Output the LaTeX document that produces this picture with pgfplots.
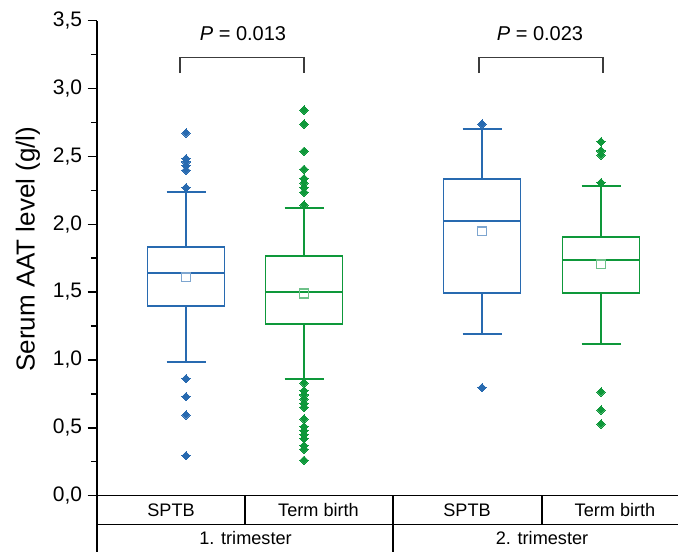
\documentclass[border=0pt]{standalone}
\usepackage{pgfplots}
\pgfplotsset{compat=1.18}
\usepgfplotslibrary{statistics}
\usepackage{fontspec}
\setmainfont{Liberation Sans}

\definecolor{sptb}{RGB}{40,106,176}
\definecolor{term}{RGB}{14,152,58}
\definecolor{brk}{RGB}{60,60,60}

% x axis in hundreds of pixels (1px = 0.75pt), 0..5.81
\begin{document}
\begin{tikzpicture}
\begin{axis}[
    at={(0,0)}, anchor=south west,
    scale only axis,
    width=435.75pt, height=356.4pt,
    xmin=0, xmax=5.81,
    ymin=0, ymax=3.5,
    axis x line*=bottom,
    axis y line*=left,
    axis line style={line width=1pt, black},
    xtick=\empty,
    ytick={0,0.5,...,3.5},
    minor y tick num=1,
    tick align=outside,
    major tick length=7pt,
    minor tick length=4.5pt,
    every tick/.style={black, line width=1pt},
    /pgf/number format/.cd, use comma, fixed, fixed zerofill, precision=1,
    assume math mode=true,
    /pgfplots/.cd,
    yticklabel style={font=\fontsize{15.75}{18}\selectfont, inner sep=0pt, xshift=-4pt},
    ylabel={Serum AAT level (g/l)},
    ylabel style={font=\fontsize{19.5}{22}\selectfont, at={(axis description cs:-0.1188,0.519)}, anchor=center},
    boxplot/draw direction=y,
    boxplot/every box/.style={line width=1.4pt},
    boxplot/every median/.style={line width=1.4pt},
    boxplot/every whisker/.style={line width=1.4pt},
    clip=false,
]
% 1. trimester, SPTB
\addplot[boxplot prepared={draw position=0.89, lower whisker=0.982, lower quartile=1.399,
    median=1.638, upper quartile=1.834, upper whisker=2.236, box extend=0.77, whisker extend=0.39},
    draw=sptb, line width=1.4pt, mark=square*, mark size=2.2pt,
    mark options={rotate=45, fill=sptb, draw=sptb, line width=0pt}]
  coordinates {(0,2.268) (0,2.398) (0,2.430) (0,2.459) (0,2.482) (0,2.671)
               (0,0.862) (0,0.729) (0,0.594) (0,0.295)};
% 1. trimester, Term birth
\addplot[boxplot prepared={draw position=2.07, lower whisker=0.862, lower quartile=1.264,
    median=1.498, upper quartile=1.767, upper whisker=2.119, box extend=0.77, whisker extend=0.39},
    draw=term, line width=1.4pt, mark=square*, mark size=2.2pt,
    mark options={rotate=45, fill=term, draw=term, line width=0pt}]
  coordinates {(0,2.141) (0,2.236) (0,2.268) (0,2.303) (0,2.337) (0,2.404) (0,2.538)
               (0,2.737) (0,2.840)
               (0,0.830) (0,0.773) (0,0.742) (0,0.712) (0,0.680) (0,0.651) (0,0.565)
               (0,0.508) (0,0.479) (0,0.449) (0,0.420) (0,0.368) (0,0.342) (0,0.261)};
% 2. trimester, SPTB
\addplot[boxplot prepared={draw position=3.85, lower whisker=1.191, lower quartile=1.495,
    median=2.021, upper quartile=2.334, upper whisker=2.698, box extend=0.77, whisker extend=0.39},
    draw=sptb, line width=1.4pt, mark=square*, mark size=2.2pt,
    mark options={rotate=45, fill=sptb, draw=sptb, line width=0pt}]
  coordinates {(0,2.737) (0,0.795)};
% 2. trimester, Term birth
\addplot[boxplot prepared={draw position=5.04, lower whisker=1.119, lower quartile=1.495,
    median=1.738, upper quartile=1.903, upper whisker=2.283, box extend=0.77, whisker extend=0.39},
    draw=term, line width=1.4pt, mark=square*, mark size=2.2pt,
    mark options={rotate=45, fill=term, draw=term, line width=0pt}]
  coordinates {(0,2.305) (0,2.509) (0,2.540) (0,2.607) (0,0.764) (0,0.631) (0,0.528)};
% means
\addplot[only marks, mark=square, mark size=3.3pt, mark options={draw=sptb!60, line width=1pt}]
  coordinates {(0.89,1.608) (3.85,1.947)};
\addplot[only marks, mark=square, mark size=3.3pt, mark options={draw=term!60, line width=1pt}]
  coordinates {(2.07,1.490) (5.04,1.704)};

% significance brackets
\draw[brk, line width=1pt] (axis cs:0.83,3.113) |- (axis cs:2.07,3.227) -- (axis cs:2.07,3.113);
\draw[brk, line width=1pt] (axis cs:3.82,3.113) |- (axis cs:5.06,3.227) -- (axis cs:5.06,3.113);
\node[font=\fontsize{15}{18}\selectfont] at (axis cs:1.46,3.40) {\textit{P} = 0.013};
\node[font=\fontsize{15}{18}\selectfont] at (axis cs:4.43,3.40) {\textit{P} = 0.023};

% category table
\draw[line width=1pt] (axis cs:0,-0.211) -- (axis cs:5.81,-0.211);
\draw[line width=1pt] (axis cs:0,0) -- (axis cs:0,-0.45);
\draw[line width=1pt] (axis cs:1.48,0) -- (axis cs:1.48,-0.211);
\draw[line width=1pt] (axis cs:2.96,0) -- (axis cs:2.96,-0.45);
\draw[line width=1pt] (axis cs:4.45,0) -- (axis cs:4.45,-0.211);
\begin{scope}[font=\fontsize{13.6}{16}\selectfont]
\node at (axis cs:0.74,-0.1077) {SPTB};
\node at (axis cs:2.215,-0.1077) {Term birth};
\node at (axis cs:3.70,-0.1077) {SPTB};
\node at (axis cs:5.18,-0.1077) {Term birth};
\node at (axis cs:1.485,-0.311) {1. trimester};
\node at (axis cs:4.45,-0.311) {2. trimester};
\end{scope}
\end{axis}
\pgfresetboundingbox
\useasboundingbox (-72.75pt,-41.5pt) rectangle (435.75pt,371.8pt);
\end{tikzpicture}
\end{document}
